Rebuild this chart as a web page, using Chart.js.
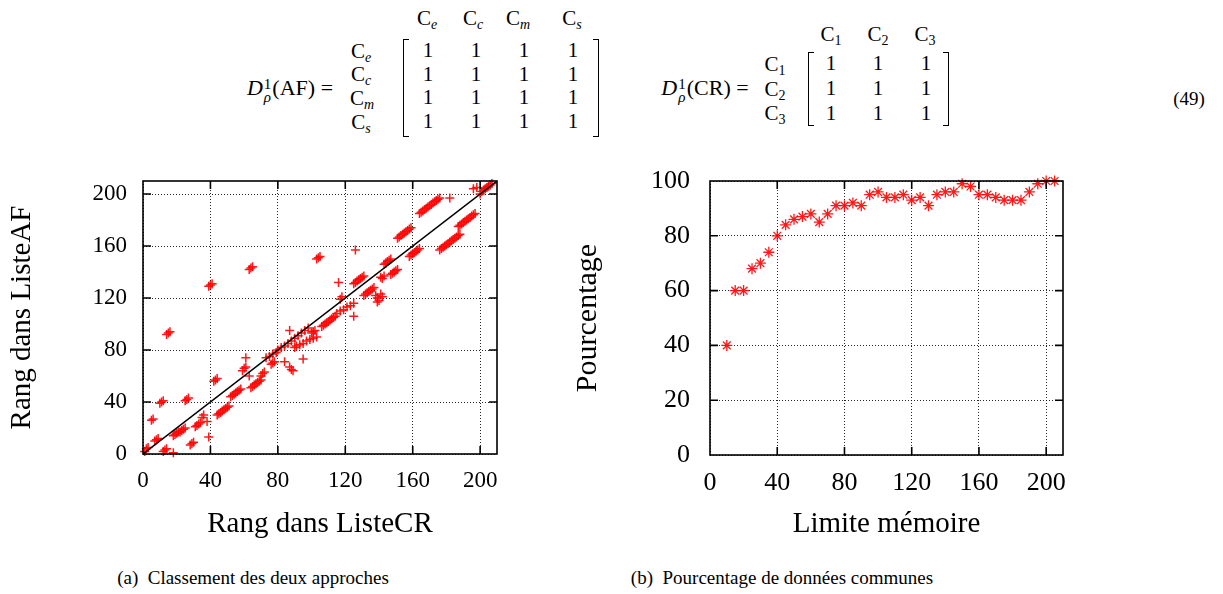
<!DOCTYPE html>
<html><head><meta charset="utf-8">
<script src="https://cdn.jsdelivr.net/npm/chart.js@4"></script>
<style>
body{margin:0;background:#fff;width:1223px;height:594px;position:relative;overflow:hidden;font-family:"Liberation Serif","Times New Roman",serif;color:#000}
.t{position:absolute;white-space:nowrap;line-height:1;transform:translate(-50%,-50%);font-size:21px}
.t sub{font-size:14px;vertical-align:-4px;line-height:0}
.eq{font-size:22px}
.ss{display:inline-block;font-size:15px;line-height:13px;vertical-align:-7px;margin-left:1px;margin-right:1px;text-align:left}
.br{position:absolute;border:1.5px solid #000;width:6px;box-sizing:border-box}
.bl{border-right:none}
.bR{border-left:none}
canvas{position:absolute}
.cap{position:absolute;white-space:nowrap;transform:translate(-50%,-50%);font-size:19px;line-height:1}
</style></head><body>

<!-- equation 1 -->
<div class="t eq" style="left:290px;top:90px"><i>D</i><span class="ss">1<br><i>ρ</i></span>(AF) =</div>
<div class="t" style="left:427px;top:18px">C<sub><i>e</i></sub></div>
<div class="t" style="left:473px;top:18px">C<sub><i>c</i></sub></div>
<div class="t" style="left:518px;top:18px">C<sub><i>m</i></sub></div>
<div class="t" style="left:572px;top:18px">C<sub><i>s</i></sub></div>
<div class="t" style="left:361px;top:51px">C<sub><i>e</i></sub></div>
<div class="t" style="left:361px;top:74px">C<sub><i>c</i></sub></div>
<div class="t" style="left:362px;top:98px">C<sub><i>m</i></sub></div>
<div class="t" style="left:361px;top:122px">C<sub><i>s</i></sub></div>
<div class="br bl" style="left:403px;top:39px;height:98px"></div>
<div class="br bR" style="left:593px;top:39px;height:98px"></div>
<div id="m1"></div>

<!-- equation 2 -->
<div class="t eq" style="left:705px;top:90px"><i>D</i><span class="ss">1<br><i>ρ</i></span>(CR) =</div>
<div class="t" style="left:831px;top:34px">C<sub>1</sub></div>
<div class="t" style="left:878px;top:34px">C<sub>2</sub></div>
<div class="t" style="left:925px;top:34px">C<sub>3</sub></div>
<div class="t" style="left:775px;top:64px">C<sub>1</sub></div>
<div class="t" style="left:775px;top:89px">C<sub>2</sub></div>
<div class="t" style="left:775px;top:113px">C<sub>3</sub></div>
<div class="br bl" style="left:808px;top:52px;height:74px"></div>
<div class="br bR" style="left:943px;top:52px;height:74px"></div>
<div id="m2"></div>
<div class="t" style="left:1189px;top:98px;font-size:19px">(49)</div>

<canvas id="c1" width="520" height="380" style="left:0;top:165px;width:520px;height:380px"></canvas>
<canvas id="c2" width="520" height="380" style="left:560px;top:165px;width:520px;height:380px"></canvas>

<div class="cap" style="left:253px;top:577px">(a)&nbsp; Classement des deux approches</div>
<div class="cap" style="left:782px;top:577px">(b)&nbsp; Pourcentage de données communes</div>

<script>
// ---------- data ----------
const matrixAF = [[1,1,1,1],[1,1,1,1],[1,1,1,1],[1,1,1,1]];
const matrixCR = [[1,1,1],[1,1,1],[1,1,1]];

const axisTicks = [0, 40, 80, 120, 160, 200];
const pctTicks = [0, 20, 40, 60, 80, 100];

const rankCR = [1,2,3,5,6,7,8,9,10,11,12,12,13,14,14,15,16,18,
 18,19,20,21,22,23,24,25,25,26,27,28,29,30,31,32,33,34,35,36,38,39,
 39,40,41,42,43,44,44,45,46,47,48,49,50,51,52,53,54,55,56,57,58,
 59,60,61,61,63,63,64,65,64,65,66,67,68,69,70,70,71,72,
 73,75,77,79,80,82,84,86,88,90,92,94,96,98,
 76,77,78,84,87,87,88,89,
 90,91,93,95,97,99,101,103,95,100,101,102,103,104,105,
 106,107,108,109,110,111,112,113,114,
 115,117,119,121,123,125,116,117,118,125,126,
 125,126,127,128,129,130,131,
 131,132,133,134,135,136,137,
 138,139,139,140,141,142,141,142,143,
 143,144,145,146,147,147,148,149,150,151,
 151,152,153,154,155,156,157,158,159,
 158,159,160,161,162,163,164,
 164,165,166,167,168,169,170,171,172,173,174,175,176,
 176,177,178,179,180,181,182,183,184,185,186,187,188,
 182,
 187,188,189,190,191,192,193,194,195,196,197,
 196,198,200,201,202,203,204,205,206,207];
const rankAF = [2,4,5,26,27,10,11,12,39,40,41,2,3,4,92,93,94,1,
 14,15,16,17,17,18,19,20,41,42,43,7,8,9,21,22,23,24,28,30,25,13,
 129,130,131,56,57,58,30,31,32,33,34,35,36,37,44,45,46,47,48,49,50,
 64,66,67,74,60,142,143,144,51,52,53,54,55,56,57,60,62,63,
 74,75,77,78,80,82,83,85,87,89,91,93,95,97,
 69,70,71,71,95,67,65,64,
 82,83,84,85,87,88,89,90,73,93,94,95,150,151,152,
 98,99,100,101,102,103,104,105,106,
 108,110,111,113,114,116,132,119,121,106,157,
 131,132,133,134,135,136,137,
 122,123,124,125,126,127,128,
 122,117,120,118,123,121,136,135,137,
 146,147,148,149,150,138,139,140,141,142,
 166,167,168,169,170,171,172,173,174,
 152,153,154,155,156,157,158,
 185,186,187,188,189,190,191,192,193,194,195,196,197,
 157,158,159,160,161,162,163,164,165,166,167,168,169,
 197,
 175,176,177,178,179,180,181,182,183,184,185,
 204,205,200,202,203,204,205,206,207,208];
const diagX = [0, 210];
const diagY = [0, 210];

const memLimit = [10,15,20,25,30,35,40,45,50,55,60,65,70,75,80,85,90,95,100,105,
 110,115,120,125,130,135,140,145,150,155,160,165,170,175,180,185,190,195,200,205];
const pctCommon = [40,60,60,68,70,74,80,84,86,87,88,85,88,91,91,92,91,95,96,94,
 94,95,93,94,91,95,96,96,99,98,95,95,94,93,93,93,96,99,100,100];

// ---------- matrices as text ----------
function placeMatrix(id, m, xs, ys){
  const host = document.getElementById(id);
  m.forEach((row,i)=>row.forEach((v,j)=>{
    const d=document.createElement('div'); d.className='t';
    d.style.left=xs[j]+'px'; d.style.top=ys[i]+'px'; d.textContent=v; host.appendChild(d);
  }));
}
placeMatrix('m1', matrixAF, [428,476,524,573], [50,74,97,121]);
placeMatrix('m2', matrixCR, [831,878,926], [63,88,113]);

// ---------- charts ----------
const F = '"Liberation Serif","Times New Roman",serif';

const framePlugin = {
  id:'frame',
  afterDraw(chart){
    const {ctx, chartArea:a, scales:{x,y}} = chart;
    const L = 8;
    ctx.save();
    ctx.strokeStyle='#000'; ctx.lineWidth=1.6;
    ctx.beginPath();
    x.ticks.forEach(t=>{
      const p=x.getPixelForValue(t.value);
      if(p<=a.left+1||p>=a.right-1) return;
      ctx.moveTo(p,a.bottom); ctx.lineTo(p,a.bottom-L);
      ctx.moveTo(p,a.top); ctx.lineTo(p,a.top+L);
    });
    y.ticks.forEach(t=>{
      const p=y.getPixelForValue(t.value);
      if(p>=a.bottom-1||p<=a.top+1) return;
      ctx.moveTo(a.left,p); ctx.lineTo(a.left+L,p);
      ctx.moveTo(a.right,p); ctx.lineTo(a.right-L,p);
    });
    ctx.stroke();
    ctx.strokeRect(a.left,a.top,a.right-a.left,a.bottom-a.top);
    ctx.restore();
  }
};

function axis(opts){
  return {
    type:'linear', min:opts.min, max:opts.max,
    afterFit(s){
      if(opts.isX){ s.height=opts.fit; s.paddingLeft=0; s.paddingRight=0; }
      else { s.width=opts.fit; s.paddingTop=0; s.paddingBottom=0; }
    },
    afterBuildTicks(s){ s.ticks = opts.ticks.map(v=>({value:v})); },
    ticks:{color:'#000', font:{family:F,size:opts.tickFont}, padding:opts.tickPad, maxRotation:0, autoSkip:false},
    grid:{color:'rgba(0,0,0,0.85)', lineWidth:1, drawTicks:false},
    border:{display:false, dash:[1,2]},
    title:{display:true, text:opts.title, color:'#000', font:{family:F,size:opts.titleFont}, padding:opts.titlePad}
  };
}

const common = {
  responsive:false, animation:false, events:[],
  plugins:{legend:{display:false}, tooltip:{enabled:false}},
};

// Left: scatter of ranks
new Chart(document.getElementById('c1'), {
  type:'scatter',
  data:{datasets:[
    {data:rankCR.map((v,i)=>({x:v,y:rankAF[i]})), pointStyle:'cross', pointRadius:4.5,
     borderColor:'rgba(255,0,0,0.9)', backgroundColor:'rgba(255,0,0,0.9)', pointBorderWidth:1.5, clip:false, order:2},
    {data:diagX.map((v,i)=>({x:v,y:diagY[i]})), showLine:true, pointRadius:0, borderColor:'#000',
     borderWidth:1.4, order:1}
  ]},
  options:Object.assign({}, common, {
    layout:{padding:{left:0,right:23,top:16,bottom:0}},
    scales:{
      x:axis({isX:true,min:0,max:210,ticks:axisTicks,fit:91,tickFont:23,tickPad:13,title:'Rang dans ListeCR',titleFont:29,titlePad:{top:0,bottom:3}}),
      y:axis({isX:false,min:0,max:210,ticks:axisTicks,fit:143,tickFont:23,tickPad:16,title:'Rang dans ListeAF',titleFont:29,titlePad:{top:5,bottom:0}})
    }
  }),
  plugins:[framePlugin]
});

// Right: percentage
new Chart(document.getElementById('c2'), {
  type:'scatter',
  data:{datasets:[
    {data:memLimit.map((v,i)=>({x:v,y:pctCommon[i]})), pointStyle:'star', pointRadius:5.5,
     borderColor:'rgba(255,0,0,0.9)', backgroundColor:'rgba(255,0,0,0.9)', pointBorderWidth:1.3, clip:false}
  ]},
  options:Object.assign({}, common, {
    layout:{padding:{left:0,right:17,top:16,bottom:0}},
    scales:{
      x:axis({isX:true,min:0,max:210,ticks:axisTicks,fit:90,tickFont:26,tickPad:13,title:'Limite mémoire',titleFont:29,titlePad:{top:0,bottom:3}}),
      y:axis({isX:false,min:0,max:100,ticks:pctTicks,fit:150,tickFont:26,tickPad:20,title:'Pourcentage',titleFont:30,titlePad:{top:10,bottom:0}})
    }
  }),
  plugins:[framePlugin]
});
</script>
</body></html>
